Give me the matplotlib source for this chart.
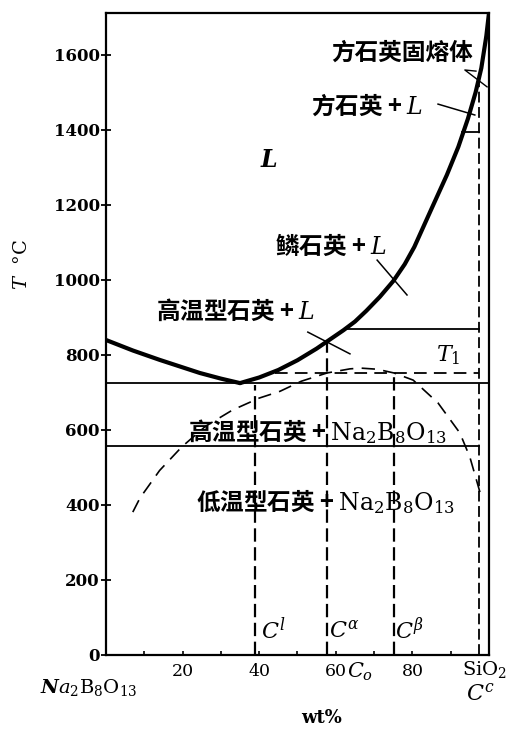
import matplotlib
matplotlib.use("Agg")
import matplotlib.pyplot as plt

# liquidus on the Na2B8O13 side, down to the eutectic
liq_left_x = [0, 7, 14, 20, 24.5, 30, 35]
liq_left_t = [840, 812, 787, 767, 752, 737, 725]

# liquidus on the SiO2 side, up to the melting point of cristobalite
liq_right_x = [35, 40, 45, 50, 55, 58, 62, 65, 68, 71.5, 75, 78, 80.5,
               85, 89, 92, 94.5, 96.5, 98, 99.3, 100]
liq_right_t = [725, 740, 760, 786, 817, 838, 866, 889, 918, 955, 997,
               1042, 1088, 1190, 1280, 1355, 1430, 1500, 1565, 1650, 1712]

# metastable immiscibility dome (dashed)
dome_x = [7, 8.9, 14, 19.8, 26, 33, 40, 45.4, 51, 57.7, 63.7, 66.5,
          70.8, 75.2, 80.2, 86.7, 92.4, 95.0, 97.7]
dome_t = [381, 419, 492, 555, 610, 653, 685, 703, 730, 752, 763, 765,
          762, 752, 733, 672, 592, 528, 432]

# invariant / transition temperatures
T_eutectic = 725
T_quartz = 557
T_tridymite = 869
T_cristobalite = 1395
T_1 = 752

# characteristic compositions (wt% SiO2)
C_l = 39
C_alpha = 57.7
C_beta = 75.2
C_c = 97.4

y_ticks = [0, 200, 400, 600, 800, 1000, 1200, 1400, 1600]
x_ticks = [10, 20, 30, 40, 50, 60, 70, 80, 90]
x_labels = ['', '20', '', '40', '', '60', '', '80', '']

CJK = ['Noto Sans CJK SC', 'DejaVu Serif']
SERIF = 'DejaVu Serif'


def main():
    plt.rcParams['mathtext.fontset'] = 'dejavuserif'
    plt.rcParams['font.family'] = CJK

    fig = plt.figure(figsize=(5.17, 7.38), dpi=100)
    ax = fig.add_axes([0.205, 0.1125, 0.7408, 0.8699])
    ax.set_xlim(0, 100)
    ax.set_ylim(0, 1712)

    for s in ax.spines.values():
        s.set_linewidth(1.6)

    # liquidus
    ax.plot(liq_left_x, liq_left_t, color='k', lw=3, solid_capstyle='round')
    ax.plot(liq_right_x, liq_right_t, color='k', lw=3,
            solid_capstyle='round', solid_joinstyle='round')

    # horizontal phase boundaries
    ax.plot([0, 100], [T_eutectic, T_eutectic], color='k', lw=1.3)
    ax.plot([0, C_c], [T_quartz, T_quartz], color='k', lw=1.3)
    ax.plot([62.4, C_c], [T_tridymite, T_tridymite], color='k', lw=1.3)
    ax.plot([93.0, C_c], [T_cristobalite, T_cristobalite], color='k', lw=1.3)
    ax.plot([44, C_c], [T_1, T_1], color='k', lw=1.3, dashes=(7, 4))

    # cristobalite solid solution boundary
    ax.plot([C_c, 100], [1530, 1712], color='k', lw=1.0)

    # miscibility dome
    ax.plot(dome_x, dome_t, color='k', lw=1.2, dashes=(8, 5))

    # composition verticals
    ax.plot([C_l, C_l], [0, 720], color='k', lw=1.6, dashes=(6, 2.5))
    ax.plot([C_alpha, C_alpha], [0, 836], color='k', lw=1.6, dashes=(6, 2.5))
    ax.plot([C_beta, C_beta], [0, T_1], color='k', lw=1.6, dashes=(6, 2.5))
    ax.plot([C_c, C_c], [0, 1530], color='k', lw=1.3, dashes=(6, 2.5))

    # leader lines for the narrow two-phase regions
    ax.plot([52.7, 63.7], [861, 803], color='k', lw=1.1)
    ax.plot([70.8, 78.6], [1053, 960], color='k', lw=1.1)
    ax.plot([86.7, 96.3], [1469, 1440], color='k', lw=1.1)
    ax.plot([96.6, 93.7, 99.5], [1557, 1560, 1515], color='k', lw=1.0)

    # axes ticks
    ax.set_yticks(y_ticks)
    ax.set_yticklabels([str(v) for v in y_ticks], family=SERIF,
                       weight='bold', fontsize=12)
    ax.tick_params(axis='y', direction='inout', length=7, width=1.3, pad=1)
    ax.set_xticks(x_ticks)
    ax.set_xticklabels(x_labels, family=SERIF, fontsize=12.5)
    ax.tick_params(axis='x', direction='in', length=3, width=1.2, pad=6)

    # region labels
    bold_cjk = dict(family=CJK, weight='bold', fontsize=17, color='k')
    ax.text(95.8, 1605, '方石英固熔体', ha='right', va='center', **bold_cjk)
    ax.text(53.5, 1467, '方石英 + $\\mathit{L}$', ha='left', va='center',
            **bold_cjk)
    ax.text(44.1, 1091, '鳞石英 + $\\mathit{L}$', ha='left', va='center',
            **bold_cjk)
    ax.text(13.0, 917, '高温型石英 + $\\mathit{L}$', ha='left', va='center',
            **bold_cjk)
    ax.text(21.4, 597, '高温型石英 + $\\mathrm{Na_2B_8O_{13}}$', ha='left',
            va='center', **bold_cjk)
    ax.text(23.5, 408, '低温型石英 + $\\mathrm{Na_2B_8O_{13}}$', ha='left',
            va='center', **bold_cjk)
    ax.text(42.6, 1320, 'L', family=SERIF, style='italic', weight='bold',
            fontsize=17, ha='center', va='center')
    ax.text(89.3, 800, '$T_1$', fontsize=16, ha='center', va='center')

    # composition labels
    ax.text(C_l + 1.6, 64, '$C^l$', fontsize=16, ha='left', va='center')
    ax.text(C_alpha + 0.6, 64, '$C^\\alpha$', fontsize=16, ha='left',
            va='center')
    ax.text(C_beta + 0.2, 64, '$C^\\beta$', fontsize=16, ha='left',
            va='center')
    ax.text(66.3, -45, '$C_o$', fontsize=15, ha='center', va='center',
            clip_on=False)
    ax.text(93, -40, '$\\mathrm{SiO_2}$', fontsize=14, ha='left',
            va='center', clip_on=False)
    ax.text(C_c + 0.5, -105, '$C^c$', fontsize=16, ha='center', va='center',
            clip_on=False)
    ax.text(-4.4, -88, '$\\mathbfit{N}\\mathit{a}_2\\mathrm{B_8O_{13}}$',
            fontsize=14, ha='center', va='center', clip_on=False)
    ax.text(56.4, -168, 'wt%', family=SERIF, weight='bold', fontsize=13,
            ha='center', va='center', clip_on=False)

    fig.text(22 / 517, 1 - 265 / 738, '$T$  °C', family=SERIF, fontsize=14,
             rotation=90, ha='center', va='center')

    fig.savefig('out.png', dpi=100)


if __name__ == "__main__":
    main()
